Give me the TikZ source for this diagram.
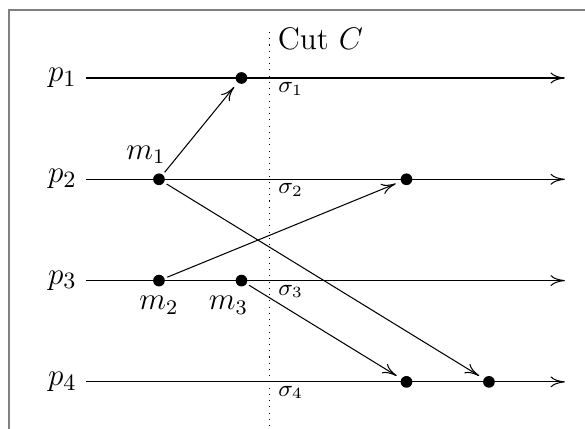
\documentclass[tikz,border=0pt]{standalone}
\usepackage{amsmath}
\usepackage{xcolor}
\usetikzlibrary{arrows.meta,positioning}
\definecolor{framegray}{RGB}{128,128,128}

\begin{document}
\begin{tikzpicture}[
    x=31.73pt, y=38.96pt,
    every node/.style={align=center},
    event/.style={circle, fill=black, inner sep=0pt, minimum size=4.5pt, outer sep=1.2pt},
    proc/.style={-{To[length=5.5pt,width=4.2pt]}},
    msg/.style={-{To[length=5.5pt,width=4.2pt]}, shorten >=1pt},
    plabel/.style={left, font=\fontsize{13}{15}\selectfont},
    mlabel/.style={font=\large},
    slabel/.style={anchor=north west, font=\small, inner sep=1.5pt, xshift=1.5pt}
]
\useasboundingbox (-1.927,-0.464) rectangle (5.164,3.770);

% Frame
\draw[framegray, line width=0.8pt] (-1.818,-0.464) -- (-1.818,3.671) -- (5.164,3.671);

% Process lines
\coordinate (s1) at (-0.885,3);
\coordinate (s2) at (-0.885,2);
\coordinate (s3) at (-0.885,1);
\coordinate (s4) at (-0.885,0);
\coordinate (e1) at (4.92,3);
\coordinate (e2) at (4.92,2);
\coordinate (e3) at (4.92,1);
\coordinate (e4) at (4.92,0);
\draw[proc] (s1) -- (e1);
\draw[proc] (s2) -- (e2);
\draw[proc] (s3) -- (e3);
\draw[proc] (s4) -- (e4);
\node[plabel] (p1) at (s1) {$p_1$};
\node[plabel] (p2) at (s2) {$p_2$};
\node[plabel] (p3) at (s3) {$p_3$};
\node[plabel] (p4) at (s4) {$p_4$};

% Cut
\coordinate (cuttop) at (1.345,3.454);
\coordinate (cutbot) at (1.345,-0.464);
\draw[dotted] (cuttop) -- (cutbot);
\node[anchor=west, font=\large] (cut) at (1.33,3.39) {Cut $C$};
\node[slabel] (sigma1) at (1.345,3) {$\sigma_1$};
\node[slabel] (sigma2) at (1.345,2) {$\sigma_2$};
\node[slabel] (sigma3) at (1.345,1) {$\sigma_3$};
\node[slabel] (sigma4) at (1.345,0) {$\sigma_4$};

% Events
\node[event] (m1) at (0,2) {};
\node[event] (m2) at (0,1) {};
\node[event] (m3) at (1,1) {};
\node[event] (r1) at (1,3) {};
\node[event] (r2) at (3,2) {};
\node[event] (r3) at (3,0) {};
\node[event] (r4) at (4,0) {};
\node[mlabel, above=-1pt of m1, xshift=-5pt] (lm1) {$m_1$};
\node[mlabel, below=-1pt of m2] (lm2) {$m_2$};
\node[mlabel, below=-1pt of m3, xshift=-5pt] (lm3) {$m_3$};

% Messages
\draw[msg] (m1) -- (r1);
\draw[msg] (m1) -- (r4);
\draw[msg] (m2) -- (r2);
\draw[msg] (m3) -- (r3);

\end{tikzpicture}
\end{document}
